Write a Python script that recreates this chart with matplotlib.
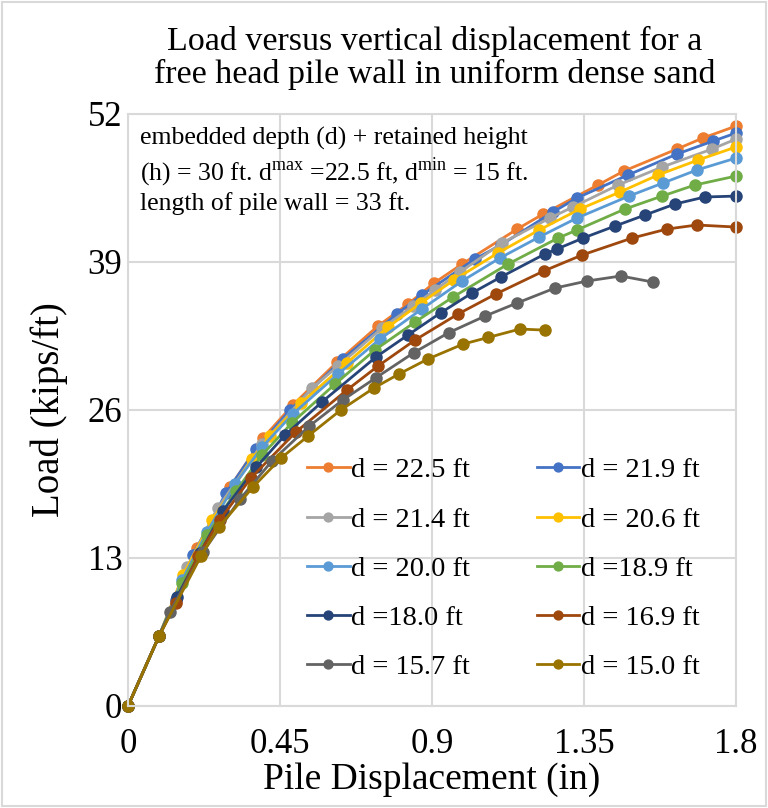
import matplotlib
matplotlib.use("Agg")
from matplotlib import pyplot as plt
from matplotlib.patches import Rectangle

plt.rcParams['font.family'] = ['Liberation Serif', 'DejaVu Serif']
plt.rcParams['mathtext.fontset'] = 'custom'
plt.rcParams['mathtext.rm'] = 'Liberation Serif'

labels = ['d = 22.5 ft', 'd = 21.9 ft', 'd = 21.4 ft', 'd = 20.6 ft', 'd = 20.0 ft',
          'd =18.9 ft', 'd =18.0 ft', 'd = 16.9 ft', 'd = 15.7 ft', 'd = 15.0 ft']
colors = ['#ED7D31', '#4472C4', '#A5A5A5', '#FFC000', '#5B9BD5',
          '#70AD47', '#264478', '#9E480E', '#636363', '#997300']

# pile displacement (in) and load (kips/ft) for each embedded depth
x_225 = [0, 0.092, 0.142, 0.204, 0.302, 0.400, 0.488, 0.619, 0.740, 0.829, 0.906, 0.989,
         1.152, 1.229, 1.391, 1.468, 1.625, 1.702, 1.8]
y_225 = [0, 6.15, 9.22, 13.88, 19.23, 23.54, 26.44, 30.21, 33.38, 35.31, 37.15, 38.82,
         41.89, 43.21, 45.76, 46.99, 48.92, 49.89, 50.94]

x_219 = [0, 0.092, 0.142, 0.192, 0.290, 0.379, 0.480, 0.636, 0.796, 0.870, 1.027, 1.104,
         1.258, 1.329, 1.480, 1.625, 1.732, 1.8]
y_219 = [0, 6.15, 9.31, 13.26, 18.71, 22.57, 26.00, 30.48, 34.43, 36.10, 39.26, 40.49,
         43.39, 44.62, 46.64, 48.48, 49.62, 50.33]

x_214 = [0, 0.092, 0.175, 0.266, 0.397, 0.545, 0.622, 0.752, 0.844, 0.909, 0.983, 1.107,
         1.249, 1.317, 1.451, 1.581, 1.729, 1.8]
y_214 = [0, 6.15, 12.21, 17.39, 23.01, 27.93, 29.86, 33.20, 35.13, 36.54, 38.12, 40.67,
         42.86, 43.83, 45.76, 47.34, 48.92, 49.80]

x_206 = [0, 0.092, 0.163, 0.249, 0.367, 0.420, 0.512, 0.648, 0.770, 0.867, 0.965, 1.095,
         1.217, 1.338, 1.456, 1.569, 1.687, 1.8]
y_206 = [0, 6.15, 11.51, 16.34, 21.69, 23.71, 26.61, 30.13, 33.29, 35.40, 37.42, 39.79,
         41.81, 43.65, 45.14, 46.64, 47.95, 49.10]

x_200 = [0, 0.092, 0.160, 0.234, 0.317, 0.397, 0.488, 0.622, 0.746, 0.870, 0.989, 1.101,
         1.217, 1.329, 1.483, 1.584, 1.684, 1.8]
y_200 = [0, 6.15, 11.07, 15.28, 19.50, 22.75, 25.65, 29.16, 32.23, 34.87, 37.33, 39.35,
         41.19, 42.86, 44.79, 45.94, 47.08, 48.13]

x_189 = [0, 0.092, 0.160, 0.234, 0.320, 0.397, 0.485, 0.613, 0.731, 0.850, 0.962, 1.125,
         1.273, 1.329, 1.471, 1.581, 1.678, 1.8]
y_189 = [0, 6.15, 10.80, 15.02, 18.88, 22.05, 24.86, 28.28, 31.27, 33.73, 35.92, 38.82,
         41.10, 41.81, 43.65, 44.79, 45.76, 46.55]

x_180 = [0, 0.092, 0.145, 0.213, 0.281, 0.379, 0.465, 0.574, 0.734, 0.829, 0.927, 1.018,
         1.104, 1.234, 1.270, 1.347, 1.442, 1.530, 1.619, 1.708, 1.8]
y_180 = [0, 6.15, 9.57, 13.44, 17.13, 20.95, 23.80, 26.70, 30.65, 32.59, 34.56, 36.27,
         37.68, 39.70, 40.14, 41.10, 42.16, 43.12, 44.09, 44.71, 44.79]

x_169 = [0, 0.092, 0.142, 0.207, 0.272, 0.364, 0.497, 0.648, 0.740, 0.850, 0.977, 1.089,
         1.231, 1.344, 1.492, 1.595, 1.684, 1.8]
y_169 = [0, 6.15, 9.05, 13.17, 16.34, 20.03, 24.07, 27.75, 29.86, 32.15, 34.43, 36.19,
         38.21, 39.61, 41.10, 41.89, 42.25, 42.07]

x_157 = [0, 0.092, 0.124, 0.222, 0.332, 0.426, 0.537, 0.636, 0.733, 0.847, 0.950, 1.057,
         1.152, 1.264, 1.359, 1.459, 1.554]
y_157 = [0, 6.15, 8.26, 13.53, 18.18, 21.52, 24.59, 26.88, 28.81, 31.05, 32.80, 34.25,
         35.40, 36.71, 37.33, 37.77, 37.24]

x_150 = [0, 0.092, 0.216, 0.269, 0.370, 0.453, 0.533, 0.630, 0.728, 0.802, 0.888, 0.992,
         1.066, 1.160, 1.234]
y_150 = [0, 6.15, 13.17, 15.72, 19.23, 21.78, 23.71, 26.00, 27.93, 29.16, 30.48, 31.79,
         32.37, 33.11, 33.02]

xs = [x_225, x_219, x_214, x_206, x_200, x_189, x_180, x_169, x_157, x_150]
ys = [y_225, y_219, y_214, y_206, y_200, y_189, y_180, y_169, y_157, y_150]

x_ticks = [0, 0.45, 0.9, 1.35, 1.8]
x_ticklabels = ['0', '0.45', '0.9', '1.35', '1.8']
y_ticks = [0, 13, 26, 39, 52]

fig = plt.figure(figsize=(7.68, 8.08), dpi=100)
ax = fig.add_axes([128 / 768, 1 - 706 / 808, 608 / 768, 592 / 808])

# chart area border
fig.patches.append(Rectangle((0.003, 0.003), 0.994, 0.994, transform=fig.transFigure,
                             fill=False, edgecolor='#D9D9D9', linewidth=1.5))

handles = []
for x, y, c, lab in zip(xs, ys, colors, labels):
    h, = ax.plot(x, y, '-o', color=c, linewidth=2, markersize=8, label=lab, clip_on=False)
    handles.append(h)

ax.set_xlim(0, 1.8)
ax.set_ylim(0, 52)
ax.set_xticks(x_ticks)
ax.set_xticklabels(x_ticklabels)
ax.set_yticks(y_ticks)
ax.tick_params(labelsize=25, length=0)
ax.tick_params(axis='x', pad=16)
ax.tick_params(axis='y', pad=4)
ax.grid(True, color='#D9D9D9', linewidth=1.5)
ax.set_axisbelow(True)
for s in ax.spines.values():
    s.set_color('#D9D9D9')
    s.set_linewidth(1.5)

ax.set_xlabel('Pile Displacement (in)', fontsize=27, labelpad=1)
ax.set_ylabel('Load (kips/ft)', fontsize=28, labelpad=14)
fig.text(435 / 768, 1 - 58 / 808,
         'Load versus vertical displacement for a\nfree head pile wall in uniform dense sand',
         fontsize=24.5, ha='center', va='center', linespacing=1.05)

ax.text(0.02, 0.978,
        'embedded depth (d) + retained height\n'
        r'(h) = 30 ft. d$^{\rm max}$ =22.5 ft, d$^{\rm min}$ = 15 ft.' '\n'
        'length of pile wall = 33 ft.',
        transform=ax.transAxes, va='top', ha='left', fontsize=18.5, linespacing=1.2)

# legend is filled row by row in the reference
order = [0, 2, 4, 6, 8, 1, 3, 5, 7, 9]
ax.legend([handles[i] for i in order], [labels[i] for i in order], ncol=2,
          loc='lower left', bbox_to_anchor=(0.252, 0.0), frameon=False, fontsize=20.5,
          handlelength=1.5, handletextpad=0.05, columnspacing=2.35, labelspacing=0.82,
          markerscale=0.8)

fig.savefig('out.png', dpi=100)
